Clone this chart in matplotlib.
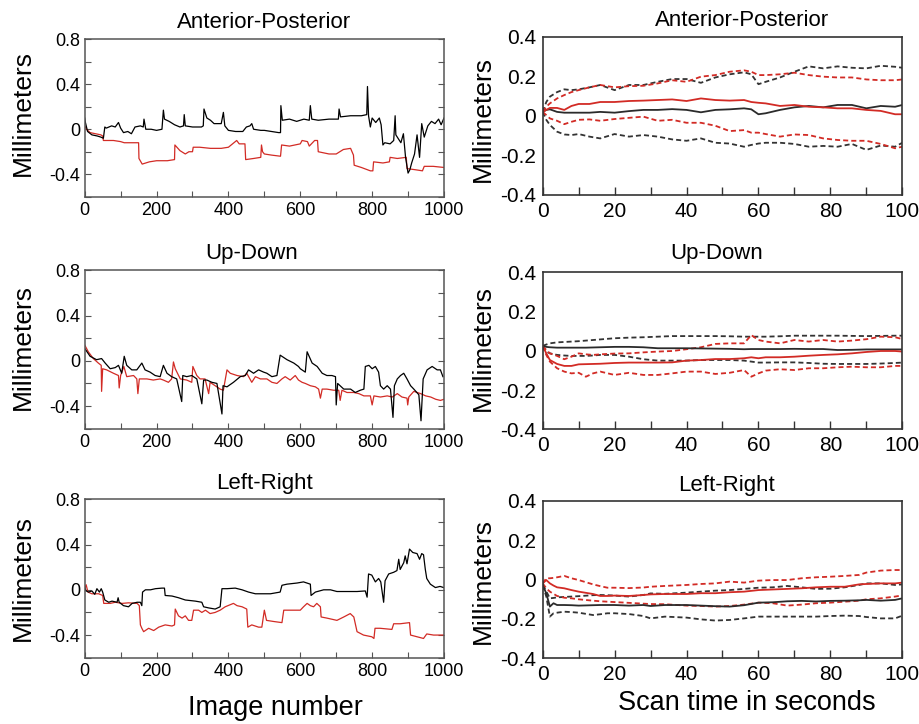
import matplotlib
matplotlib.use('Agg')
import matplotlib.pyplot as plt

plt.rcParams['font.family'] = ['Liberation Sans', 'DejaVu Sans']

RED = '#d22b25'
DARK = '#2b2b2b'

# ---- left column: per-image displacement (image number, mm) ----
ap_black = [(0, 0.1), (2, 0.06), (8, -0.02), (20, -0.05), (35, -0.06), (45, -0.07), (52, -0.08), (56, 0.02),
            (60, 0.01), (75, 0.03), (85, 0.02), (94, 0.06), (100, 0.01), (108, -0.03), (120, -0.02), (130, -0.04),
            (140, 0.02), (155, 0.03), (163, 0.02), (165, 0.09), (170, 0.0), (185, 0.0), (200, -0.01), (215, 0.0),
            (219, 0.17), (222, 0.09), (235, 0.07), (250, 0.04), (265, 0.02), (275, 0.03), (277, 0.13), (280, 0.03),
            (300, 0.02), (325, 0.02), (330, 0.03), (332, 0.18), (340, 0.1), (350, 0.08), (360, 0.05), (380, 0.05),
            (386, 0.15), (390, 0.03), (400, -0.01), (420, -0.02), (440, -0.02), (450, 0.02), (460, 0.03),
            (465, 0.05), (470, 0.0), (490, -0.01), (500, -0.01), (520, -0.02), (540, -0.03), (545, -0.03),
            (546, 0.21), (550, 0.08), (570, 0.09), (590, 0.07), (610, 0.09), (625, 0.08), (628, 0.21), (632, 0.09),
            (650, 0.08), (680, 0.09), (700, 0.09), (706, 0.09), (708, 0.18), (712, 0.11), (740, 0.12), (770, 0.12),
            (785, 0.13), (787, 0.38), (790, 0.12), (795, 0.02), (800, 0.1), (810, 0.06), (820, 0.1), (825, 0.04),
            (830, -0.14), (835, -0.12), (850, -0.13), (860, -0.1), (864, 0.12), (866, -0.05), (870, -0.07),
            (880, -0.12), (887, -0.04), (893, -0.25), (900, -0.39), (905, -0.36), (910, -0.3), (918, -0.22),
            (925, -0.05), (932, -0.25), (938, 0.05), (945, -0.07), (955, 0.03), (965, 0.07), (975, 0.05),
            (985, 0.09), (992, 0.04), (1000, 0.1)]
ap_red = [(0, 0.03), (5, 0.0), (15, -0.03), (30, -0.04), (45, -0.05), (50, -0.06), (52, -0.1), (80, -0.1),
          (100, -0.11), (110, -0.12), (150, -0.12), (151, -0.26), (160, -0.31), (180, -0.29), (200, -0.28),
          (230, -0.28), (250, -0.27), (251, -0.14), (265, -0.19), (280, -0.22), (290, -0.2), (300, -0.2),
          (302, -0.16), (320, -0.16), (350, -0.17), (380, -0.17), (400, -0.16), (423, -0.1), (430, -0.13),
          (446, -0.13), (448, -0.27), (470, -0.26), (490, -0.25), (492, -0.14), (495, -0.2), (500, -0.22),
          (520, -0.23), (545, -0.24), (548, -0.14), (570, -0.15), (600, -0.13), (605, -0.1), (620, -0.11),
          (625, -0.15), (640, -0.1), (648, -0.1), (650, -0.2), (680, -0.22), (700, -0.22), (720, -0.18),
          (740, -0.17), (748, -0.23), (750, -0.32), (770, -0.34), (795, -0.37), (802, -0.37), (804, -0.29),
          (830, -0.3), (848, -0.29), (850, -0.25), (870, -0.26), (895, -0.25), (897, -0.35), (920, -0.36),
          (940, -0.37), (945, -0.33), (970, -0.33), (1000, -0.34)]

ud_black = [(0, 0.11), (15, 0.04), (33, 0.01), (47, 0.02), (57, -0.02), (71, -0.07), (85, -0.06), (94, -0.04),
            (103, -0.11), (110, 0.04), (117, -0.04), (131, -0.08), (145, -0.08), (159, -0.02), (168, -0.08),
            (182, -0.1), (196, -0.13), (210, -0.14), (219, -0.04), (229, -0.11), (242, -0.14), (256, -0.16),
            (270, -0.36), (273, -0.13), (284, -0.14), (298, -0.13), (312, -0.16), (326, -0.38), (331, -0.17),
            (340, -0.17), (354, -0.19), (368, -0.2), (382, -0.47), (385, -0.22), (396, -0.23), (414, -0.19),
            (433, -0.14), (447, -0.13), (456, -0.08), (470, -0.11), (484, -0.08), (498, -0.1), (507, -0.11),
            (521, -0.14), (535, -0.13), (544, 0.05), (563, 0.01), (582, -0.02), (595, -0.05), (600, -0.07),
            (614, -0.1), (619, 0.08), (633, -0.02), (647, -0.05), (661, -0.11), (674, -0.13), (688, -0.13),
            (698, -0.14), (700, -0.39), (704, -0.2), (721, -0.25), (740, -0.25), (753, -0.28), (767, -0.26),
            (777, -0.25), (781, -0.05), (791, -0.04), (800, -0.07), (809, -0.05), (818, -0.1), (823, -0.22),
            (832, -0.25), (842, -0.22), (851, -0.25), (858, -0.5), (862, -0.22), (870, -0.16), (879, -0.13),
            (888, -0.11), (897, -0.16), (907, -0.22), (916, -0.25), (930, -0.3), (936, -0.53), (942, -0.16),
            (953, -0.08), (967, -0.05), (981, -0.08), (990, -0.08), (997, -0.14)]
ud_red = [(0, 0.14), (10, 0.08), (24, 0.02), (38, -0.02), (46, -0.04), (47, -0.27), (50, -0.07), (61, -0.08),
          (80, -0.11), (94, -0.13), (96, -0.24), (100, -0.13), (109, -0.05), (117, -0.14), (136, -0.13),
          (145, -0.16), (148, -0.29), (152, -0.16), (173, -0.16), (191, -0.17), (210, -0.16), (219, -0.17),
          (233, -0.19), (242, -0.16), (247, -0.01), (252, -0.07), (266, -0.16), (284, -0.17), (298, -0.19),
          (301, -0.05), (312, -0.13), (321, -0.16), (335, -0.16), (345, -0.29), (349, -0.19), (363, -0.22),
          (377, -0.25), (386, -0.26), (396, -0.08), (405, -0.11), (424, -0.13), (442, -0.14), (451, -0.11),
          (465, -0.19), (475, -0.14), (489, -0.16), (507, -0.16), (521, -0.19), (535, -0.2), (549, -0.16),
          (558, -0.14), (572, -0.17), (586, -0.13), (595, -0.17), (605, -0.19), (614, -0.2), (628, -0.22),
          (642, -0.23), (651, -0.25), (656, -0.33), (661, -0.25), (674, -0.25), (693, -0.26), (707, -0.26),
          (711, -0.35), (716, -0.26), (730, -0.28), (749, -0.28), (763, -0.29), (777, -0.31), (795, -0.31),
          (800, -0.39), (805, -0.31), (823, -0.32), (842, -0.31), (856, -0.32), (870, -0.29), (883, -0.32),
          (897, -0.33), (899, -0.39), (902, -0.32), (916, -0.27), (935, -0.29), (949, -0.31), (963, -0.32),
          (977, -0.34), (990, -0.35), (1000, -0.34)]

lr_black = [(0, 0.02), (4, -0.01), (11, -0.02), (20, -0.01), (28, -0.04), (34, 0.01), (41, -0.02), (46, 0.01),
            (50, -0.02), (56, -0.09), (67, -0.11), (76, -0.1), (90, -0.11), (93, -0.07), (96, -0.11),
            (108, -0.14), (122, -0.15), (132, -0.12), (146, -0.11), (155, -0.11), (159, -0.14), (161, -0.02),
            (169, 0.0), (183, 0.0), (197, 0.01), (215, 0.015), (222, 0.015), (224, -0.05), (243, -0.055),
            (261, -0.07), (280, -0.09), (308, -0.1), (326, -0.11), (331, -0.15), (345, -0.16), (363, -0.17),
            (377, -0.15), (382, 0.01), (396, 0.01), (419, 0.015), (438, 0.0), (456, -0.02), (475, -0.035),
            (498, -0.035), (517, -0.035), (544, -0.02), (549, 0.04), (563, 0.05), (591, 0.06), (609, 0.07),
            (628, 0.05), (630, -0.05), (642, -0.02), (665, 0.0), (684, 0.0), (702, -0.015), (730, -0.015),
            (758, -0.015), (781, -0.01), (786, -0.065), (790, 0.14), (799, 0.13), (809, 0.07), (818, 0.1),
            (824, 0.07), (832, -0.11), (836, 0.08), (846, 0.14), (860, 0.155), (869, 0.17), (874, 0.27),
            (878, 0.18), (888, 0.24), (892, 0.3), (897, 0.23), (904, 0.36), (913, 0.33), (925, 0.32), (932, 0.27),
            (938, 0.32), (943, 0.31), (948, 0.18), (952, 0.1), (962, 0.05), (976, 0.02), (989, 0.03), (999, 0.02)]
lr_red = [(0, 0.01), (4, 0.045), (9, -0.02), (20, -0.035), (39, -0.035), (50, -0.05), (53, -0.12), (71, -0.12),
          (85, -0.11), (104, -0.12), (122, -0.115), (146, -0.12), (152, -0.14), (155, -0.31), (159, -0.34),
          (164, -0.37), (178, -0.34), (192, -0.36), (206, -0.33), (224, -0.31), (243, -0.32), (250, -0.31),
          (252, -0.17), (261, -0.23), (271, -0.25), (280, -0.23), (289, -0.27), (298, -0.27), (303, -0.18),
          (317, -0.18), (326, -0.2), (336, -0.18), (349, -0.21), (363, -0.2), (377, -0.18), (391, -0.15),
          (414, -0.12), (424, -0.14), (438, -0.15), (451, -0.17), (454, -0.33), (465, -0.31), (484, -0.33),
          (493, -0.33), (500, -0.18), (506, -0.27), (526, -0.28), (549, -0.29), (554, -0.18), (600, -0.18),
          (609, -0.15), (619, -0.12), (628, -0.14), (637, -0.15), (646, -0.12), (656, -0.15), (658, -0.24),
          (674, -0.25), (702, -0.27), (721, -0.24), (739, -0.21), (749, -0.24), (758, -0.37), (776, -0.4),
          (799, -0.415), (805, -0.43), (808, -0.34), (822, -0.34), (855, -0.35), (860, -0.3), (878, -0.3),
          (904, -0.29), (907, -0.4), (925, -0.415), (943, -0.43), (952, -0.39), (971, -0.4), (1000, -0.4)]

# ---- right column: mean and spread vs scan time (s, mm) ----
t_ap = [0, 1, 2, 4, 6, 8, 10, 13, 16, 20, 24, 28, 32, 36, 40, 44, 48, 52, 56, 58, 60, 62, 66, 70, 74, 78, 82, 86,
        90, 94, 98, 100]
ap_k_mean = [0.02, 0.03, 0.033, 0.02, 0.016, 0.016, 0.016, 0.016, 0.02, 0.016, 0.024, 0.03, 0.03, 0.034, 0.03,
             0.018, 0.03, 0.033, 0.038, 0.033, 0.008, 0.013, 0.03, 0.043, 0.05, 0.043, 0.055, 0.055, 0.038, 0.05,
             0.046, 0.055]
ap_k_hi = [0.02, 0.07, 0.097, 0.12, 0.134, 0.13, 0.134, 0.144, 0.156, 0.13, 0.156, 0.156, 0.172, 0.186, 0.186,
           0.167, 0.194, 0.21, 0.22, 0.21, 0.16, 0.172, 0.194, 0.223, 0.25, 0.24, 0.25, 0.243, 0.24, 0.253, 0.248,
           0.243]
ap_k_lo = [0.02, -0.02, -0.046, -0.08, -0.094, -0.097, -0.092, -0.105, -0.114, -0.092, -0.105, -0.097, -0.105,
           -0.119, -0.126, -0.114, -0.136, -0.14, -0.156, -0.147, -0.14, -0.136, -0.136, -0.142, -0.156, -0.152,
           -0.156, -0.142, -0.172, -0.15, -0.156, -0.136]
ap_r_mean = [0.02, 0.03, 0.04, 0.04, 0.03, 0.05, 0.06, 0.06, 0.07, 0.07, 0.075, 0.077, 0.08, 0.083, 0.075, 0.088,
             0.08, 0.077, 0.08, 0.07, 0.066, 0.063, 0.05, 0.055, 0.046, 0.043, 0.038, 0.038, 0.03, 0.025, 0.008,
             0.008]
ap_r_hi = [0.02, 0.046, 0.063, 0.088, 0.105, 0.12, 0.13, 0.144, 0.156, 0.144, 0.15, 0.152, 0.164, 0.18, 0.172,
           0.198, 0.206, 0.223, 0.23, 0.223, 0.206, 0.206, 0.21, 0.218, 0.206, 0.198, 0.194, 0.194, 0.184, 0.18,
           0.18, 0.184]
ap_r_lo = [0.02, 0.004, -0.013, -0.025, -0.042, -0.03, -0.02, -0.018, -0.025, -0.016, -0.01, -0.004, -0.025,
           -0.02, -0.035, -0.035, -0.05, -0.077, -0.072, -0.085, -0.085, -0.092, -0.105, -0.094, -0.097, -0.114,
           -0.122, -0.126, -0.126, -0.142, -0.164, -0.156]

t_ud = [0, 1, 2, 4, 6, 8, 10, 12, 14, 16, 20, 24, 28, 32, 36, 40, 44, 48, 52, 56, 58, 60, 62, 66, 70, 74, 78, 82,
        86, 90, 94, 98, 100]
ud_k_mean = [0.025, 0.02, 0.018, 0.016, 0.016, 0.016, 0.016, 0.016, 0.017, 0.018, 0.02, 0.02, 0.018, 0.013, 0.013,
             0.013, 0.012, 0.011, 0.01, 0.008, 0.009, 0.009, 0.009, 0.009, 0.01, 0.009, 0.009, 0.004, 0.005, 0.007,
             0.007, 0.007, 0.007]
ud_k_hi = [0.025, 0.032, 0.038, 0.043, 0.045, 0.047, 0.049, 0.052, 0.055, 0.058, 0.064, 0.067, 0.069, 0.072, 0.075,
           0.075, 0.075, 0.075, 0.074, 0.072, 0.072, 0.072, 0.072, 0.074, 0.077, 0.077, 0.077, 0.077, 0.076, 0.075,
           0.076, 0.077, 0.077]
ud_k_lo = [0.025, -0.004, -0.013, -0.021, -0.024, -0.026, -0.026, -0.026, -0.024, -0.021, -0.021, -0.03, -0.043,
           -0.05, -0.05, -0.05, -0.047, -0.047, -0.047, -0.05, -0.055, -0.06, -0.06, -0.059, -0.059, -0.062, -0.066,
           -0.067, -0.067, -0.067, -0.065, -0.062, -0.06]
ud_r_mean = [0.025, -0.013, -0.047, -0.067, -0.077, -0.077, -0.069, -0.068, -0.067, -0.066, -0.062, -0.06, -0.06,
             -0.06, -0.059, -0.05, -0.047, -0.042, -0.042, -0.038, -0.033, -0.038, -0.033, -0.033, -0.03, -0.025,
             -0.021, -0.018, -0.013, -0.006, -0.001, -0.001, -0.004]
ud_r_hi = [0.025, 0.004, -0.013, -0.026, -0.043, -0.03, -0.013, -0.018, -0.021, -0.018, -0.014, -0.013, -0.008,
           -0.004, -0.001, 0.008, 0.018, 0.035, 0.038, 0.038, 0.08, 0.055, 0.047, 0.038, 0.055, 0.047, 0.055, 0.047,
           0.052, 0.059, 0.072, 0.069, 0.06]
ud_r_lo = [0.025, -0.021, -0.055, -0.089, -0.106, -0.115, -0.112, -0.132, -0.115, -0.106, -0.123, -0.112, -0.123,
           -0.123, -0.115, -0.106, -0.106, -0.118, -0.112, -0.098, -0.132, -0.115, -0.101, -0.094, -0.098, -0.089,
           -0.089, -0.084, -0.081, -0.084, -0.084, -0.077, -0.077]

t_lr = [0, 1, 2, 3, 4, 6, 8, 10, 14, 16, 18, 20, 24, 28, 30, 34, 40, 44, 48, 52, 56, 60, 64, 68, 72, 76, 80, 84,
        88, 90, 94, 98, 100]
lr_k_mean = [-0.027, -0.07, -0.137, -0.12, -0.129, -0.129, -0.13, -0.132, -0.13, -0.129, -0.129, -0.129, -0.132,
             -0.129, -0.134, -0.129, -0.129, -0.132, -0.135, -0.137, -0.13, -0.117, -0.115, -0.11, -0.108, -0.111,
             -0.108, -0.107, -0.105, -0.103, -0.107, -0.103, -0.095]
lr_k_hi = [-0.027, -0.06, -0.095, -0.093, -0.09, -0.088, -0.086, -0.084, -0.079, -0.078, -0.079, -0.081, -0.086,
           -0.078, -0.07, -0.072, -0.066, -0.061, -0.056, -0.053, -0.047, -0.041, -0.039, -0.032, -0.039, -0.047,
           -0.046, -0.039, -0.027, -0.019, -0.019, -0.027, -0.024]
lr_k_lo = [-0.027, -0.086, -0.188, -0.171, -0.168, -0.163, -0.165, -0.168, -0.18, -0.176, -0.171, -0.171, -0.175,
           -0.185, -0.197, -0.188, -0.193, -0.202, -0.208, -0.205, -0.197, -0.188, -0.188, -0.188, -0.188, -0.188,
           -0.185, -0.183, -0.185, -0.19, -0.197, -0.197, -0.183]
lr_r_mean = [-0.019, -0.002, -0.019, -0.03, -0.039, -0.044, -0.053, -0.061, -0.073, -0.083, -0.083, -0.081, -0.083,
             -0.078, -0.075, -0.073, -0.073, -0.069, -0.069, -0.064, -0.061, -0.053, -0.05, -0.047, -0.044, -0.039,
             -0.036, -0.036, -0.024, -0.022, -0.019, -0.019, -0.015]
lr_r_hi = [-0.019, 0.007, 0.007, 0.009, 0.012, 0.019, 0.007, -0.002, -0.024, -0.033, -0.041, -0.041, -0.043, -0.04,
           -0.036, -0.032, -0.027, -0.022, -0.019, -0.01, -0.015, -0.005, -0.002, -0.002, 0.007, 0.012, 0.015,
           0.019, 0.024, 0.036, 0.046, 0.049, 0.049]
lr_r_lo = [-0.019, -0.044, -0.061, -0.072, -0.083, -0.092, -0.095, -0.1, -0.107, -0.11, -0.112, -0.114, -0.118,
           -0.122, -0.124, -0.125, -0.132, -0.134, -0.137, -0.134, -0.127, -0.117, -0.12, -0.132, -0.127, -0.12,
           -0.117, -0.112, -0.107, -0.1, -0.095, -0.086, -0.08]

titles = ['Anterior-Posterior', 'Up-Down', 'Left-Right']

W, H = 920, 724
fig = plt.figure(figsize=(W / 100, H / 100), dpi=100)


def px_axes(x0, y0, x1, y1):
    # axes box given in pixel corners (top-left origin)
    return fig.add_axes([x0 / W, 1 - y1 / H, (x1 - x0) / W, (y1 - y0) / H])


def left_panel(box, black, red):
    ax = px_axes(*box)
    ax.plot(*zip(*red), color=RED, lw=0.9)
    ax.plot(*zip(*black), color='black', lw=0.9)
    ax.set_xlim(0, 1000)
    ax.set_ylim(-0.6, 0.8)
    ax.set_xticks(range(0, 1001, 100))
    ax.set_xticklabels([str(v) if v % 200 == 0 else '' for v in range(0, 1001, 100)])
    yt = [-0.6, -0.4, -0.2, 0, 0.2, 0.4, 0.6, 0.8]
    ax.set_yticks(yt)
    ax.set_yticklabels(['', '-0.4', '', '0', '', '0.4', '', '0.8'])
    ax.tick_params(direction='in', length=4, width=0.8, color='#555555', labelsize=13, pad=4,
                   right=True, top=False)
    ax.tick_params(axis='y', labelsize=13, pad=3)
    for s in ax.spines.values():
        s.set_color('#555555')
        s.set_linewidth(1.1)
    return ax


def right_panel(box, t, k_mean, k_hi, k_lo, r_mean, r_hi, r_lo):
    ax = px_axes(*box)
    dash = (2.8, 1.7)
    ax.plot(t, k_hi, color='#333333', lw=1.3, dashes=dash)
    ax.plot(t, k_lo, color='#333333', lw=1.3, dashes=dash)
    ax.plot(t, r_hi, color=RED, lw=1.3, dashes=dash)
    ax.plot(t, r_lo, color=RED, lw=1.3, dashes=dash)
    ax.plot(t, k_mean, color=DARK, lw=1.3)
    ax.plot(t, r_mean, color=RED, lw=1.3)
    ax.set_xlim(0, 100)
    ax.set_ylim(-0.4, 0.4)
    ax.set_xticks(range(0, 101, 10))
    ax.set_xticklabels([str(v) if v % 20 == 0 else '' for v in range(0, 101, 10)])
    ax.set_yticks([-0.4, -0.2, 0, 0.2, 0.4])
    ax.set_yticklabels(['-0.4', '-0.2', '0', '0.2', '0.4'])
    ax.tick_params(axis='x', direction='in', length=6, width=1.0, color='#333333', pad=5, labelsize=15)
    ax.tick_params(axis='y', length=0, pad=5, labelsize=15)
    for s in ax.spines.values():
        s.set_color('#333333')
        s.set_linewidth(1.2)
    return ax


left_boxes = [(84.7, 39.3, 444, 196.7), (84.7, 270.3, 444, 428.7), (84.7, 499.3, 444, 657.7)]
right_boxes = [(542.7, 36.7, 902.3, 195), (542.7, 272.3, 902.3, 429.3), (542.7, 501, 902.3, 658.3)]

left_panel(left_boxes[0], ap_black, ap_red)
left_panel(left_boxes[1], ud_black, ud_red)
left_panel(left_boxes[2], lr_black, lr_red)
right_panel(right_boxes[0], t_ap, ap_k_mean, ap_k_hi, ap_k_lo, ap_r_mean, ap_r_hi, ap_r_lo)
right_panel(right_boxes[1], t_ud, ud_k_mean, ud_k_hi, ud_k_lo, ud_r_mean, ud_r_hi, ud_r_lo)
right_panel(right_boxes[2], t_lr, lr_k_mean, lr_k_hi, lr_k_lo, lr_r_mean, lr_r_hi, lr_r_lo)

# titles, placed at their pixel centres
title_pos = [((264, 22), (742, 20)), ((252, 253), (717, 253)), ((264, 484), (727, 485))]
for name, (lp, rp) in zip(titles, title_pos):
    for (x, y) in (lp, rp):
        fig.text(x / W, 1 - y / H, name, ha='center', va='center', fontsize=16)

# y labels
for (x, y) in [(23, 113), (23, 347), (23, 578), (483, 119), (483, 348), (483, 581)]:
    fig.text(x / W, 1 - y / H, 'Millimeters', rotation=90, ha='center', va='center', fontsize=19)

fig.text(275 / W, 1 - 708 / H, 'Image number', ha='center', va='center', fontsize=19.5)
fig.text(747 / W, 1 - 703 / H, 'Scan time in seconds', ha='center', va='center', fontsize=19.5)

fig.savefig('out.png', dpi=100)
